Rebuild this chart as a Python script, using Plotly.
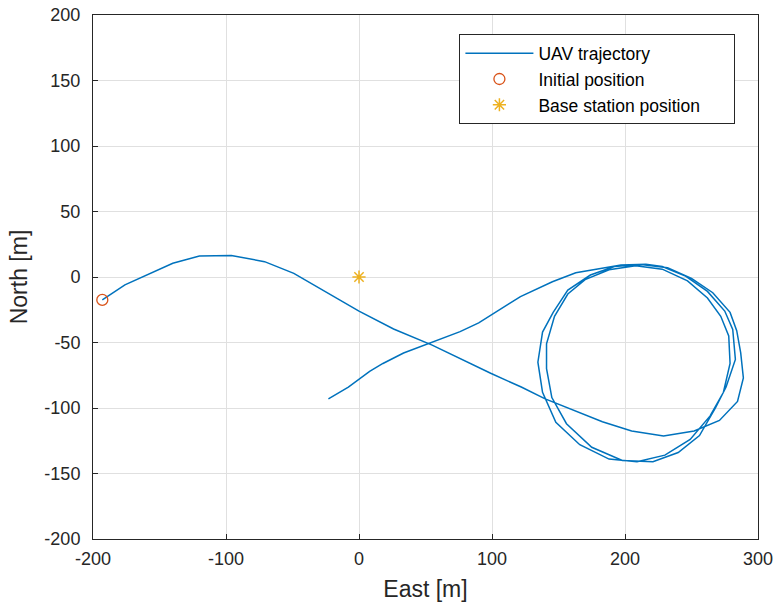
import plotly.graph_objects as go

# UAV track in local East/North coordinates [m]
east = [-193, -176, -140, -120, -96, -71, -49, -25, 0, 26, 55, 99, 122, 140, 161, 183, 205, 229,
        252, 271, 284.6, 289, 287, 284, 279, 266, 250, 232, 212, 192, 174, 157, 146, 138, 134.5,
        138, 148, 166, 188, 209, 230, 249, 264, 274, 279, 278, 272, 262, 247, 228, 208, 188, 170,
        157, 147, 141, 141, 145, 156, 175, 198, 221, 240, 256, 268, 276, 283, 281, 275, 262, 245,
        228, 215.7, 197, 163, 145.4, 121.4, 90, 76, 55, 33.5, 18, 8, -8, -23]
north = [-17.5, -6, 10.5, 16, 16.5, 11.7, 2.8, -11.5, -26, -39.7, -52, -73.5, -84, -93, -101.5,
         -110.5, -117.5, -121.4, -117.5, -109.5, -95, -77, -58, -41, -27, -12, -1, 7, 9.5, 8, 1.5,
         -10, -27, -42, -65, -88, -111, -128, -139, -141, -136, -124, -106, -88, -66, -45, -30, -16,
         -3, 6, 8.5, 5.5, -2, -13, -30, -51, -70, -92, -112, -130, -140, -141, -134, -121, -100,
         -84, -63, -40, -26, -11, 1, 8, 9.7, 9.2, 3.3, -3.6, -15, -35, -41.7, -50, -58, -66, -72,
         -84, -93]

init_east, init_north = [-193], [-17.5]
base_east, base_north = [0], [0]

x_ticks = [-200, -100, 0, 100, 200, 300]
y_ticks = [-200, -150, -100, -50, 0, 50, 100, 150, 200]

# trailing no-break spaces give the legend box some right-hand padding
pad = "\u00a0" * 6

fig = go.Figure()
fig.add_trace(go.Scatter(x=east, y=north, mode="lines", name="UAV trajectory",
                         line=dict(color="#0072BD", width=1.5)))
fig.add_trace(go.Scatter(x=init_east, y=init_north, mode="markers", name="Initial position",
                         marker=dict(symbol="circle-open", size=11, color="#D95319",
                                     line=dict(width=1.3))))
fig.add_trace(go.Scatter(x=base_east, y=base_north, mode="markers",
                         name="Base station position" + pad,
                         marker=dict(symbol="asterisk-open", size=11, color="#EDB120",
                                     line=dict(width=1.5, color="#EDB120"))))

axis_common = dict(showline=True, linecolor="#262626", linewidth=1, mirror=True,
                   ticks="inside", ticklen=5, tickcolor="#262626", automargin=False,
                   showgrid=True, gridcolor="#e0e0e0", gridwidth=1, zeroline=False,
                   tickfont=dict(size=18, color="#262626"))

fig.update_layout(
    width=775, height=607,
    margin=dict(l=93, r=17, t=15, b=68),
    paper_bgcolor="white", plot_bgcolor="white",
    font=dict(family="Liberation Sans, Arial, sans-serif", color="#262626"),
    xaxis=dict(range=[-200, 300], tickvals=x_ticks, ticktext=[str(v) for v in x_ticks],
               ticklabelstandoff=3,
               title=dict(text="East [m]", font=dict(size=23), standoff=13), **axis_common),
    yaxis=dict(range=[-200, 200], tickvals=y_ticks, ticktext=[str(v) for v in y_ticks],
               ticklabelstandoff=8,
               title=dict(text="North [m]", font=dict(size=23), standoff=10), **axis_common),
    legend=dict(x=0.551, y=0.963, xanchor="left", yanchor="top",
                bgcolor="white", bordercolor="#262626", borderwidth=1,
                font=dict(size=17.5, color="#000000"), itemwidth=68),
    showlegend=True,
)

fig.write_html("out.html")
